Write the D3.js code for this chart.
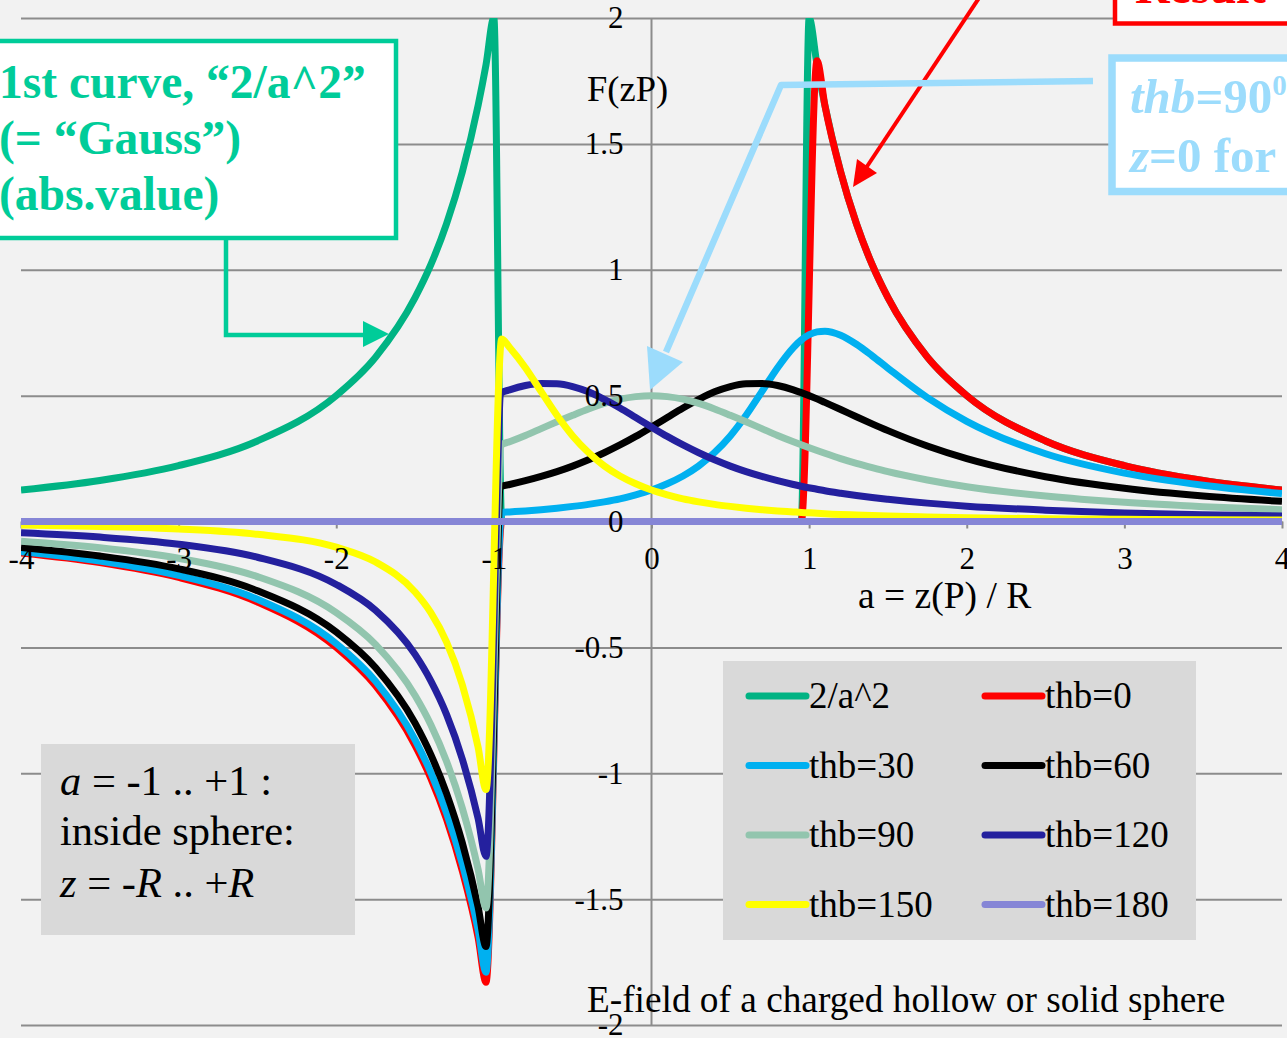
<!DOCTYPE html>
<html>
<head>
<meta charset="utf-8">
<script src="https://cdn.jsdelivr.net/npm/d3@7"></script>
<title>E-field of a charged sphere</title>
<style>
  body { margin: 0; background: #f2f2f2; overflow: hidden; }
  svg { display: block; font-family: "Liberation Serif", "Times New Roman", serif; }
</style>
</head>
<body>
<script>
// a = z(P) / R, sample points shared by the thb series
const aGrid = [-4, -3.5, -3, -2.5, -2, -1.75, -1.5, -1.4, -1.3, -1.2, -1.1, -1.05,
  -0.95, -0.9, -0.8, -0.7, -0.6, -0.5, -0.4, -0.3, -0.2, -0.1, 0, 0.1, 0.2, 0.3, 0.4, 0.5, 0.6, 0.7, 0.8, 0.9, 0.95,
  1.05, 1.1, 1.2, 1.3, 1.4, 1.5, 1.75, 2, 2.5, 3, 3.5, 4]

const thb0 = [-0.125, -0.163, -0.222, -0.32, -0.5, -0.653, -0.889, -1.02, -1.183, -1.389, -1.653, -1.83,
  0, 0, 0, 0, 0, 0, 0, 0, 0, 0, 0, 0, 0, 0, 0, 0, 0, 0, 0, 0, 0,
  1.83, 1.653, 1.389, 1.183, 1.02, 0.889, 0.653, 0.5, 0.32, 0.222, 0.163, 0.125]
const thb30 = [-0.12, -0.157, -0.214, -0.309, -0.485, -0.635, -0.867, -0.997, -1.158, -1.361, -1.622, -1.79,
  0.036, 0.038, 0.042, 0.047, 0.053, 0.06, 0.068, 0.078, 0.09, 0.106, 0.125, 0.15, 0.181, 0.221, 0.274, 0.34, 0.422, 0.516, 0.611, 0.691, 0.721,
  0.753, 0.756, 0.74, 0.704, 0.658, 0.609, 0.492, 0.398, 0.269, 0.192, 0.144, 0.111]
const thb60 = [-0.103, -0.137, -0.188, -0.275, -0.439, -0.581, -0.801, -0.926, -1.081, -1.277, -1.531, -1.688,
  0.14, 0.147, 0.162, 0.179, 0.198, 0.22, 0.245, 0.273, 0.304, 0.338, 0.375, 0.413, 0.451, 0.485, 0.515, 0.536, 0.547, 0.548, 0.54, 0.523, 0.512,
  0.487, 0.473, 0.445, 0.416, 0.388, 0.361, 0.3, 0.25, 0.178, 0.132, 0.101, 0.08]
const thb90 = [-0.078, -0.104, -0.146, -0.219, -0.362, -0.489, -0.691, -0.807, -0.953, -1.139, -1.382, -1.535,
  0.305, 0.317, 0.342, 0.369, 0.396, 0.422, 0.447, 0.469, 0.486, 0.496, 0.5, 0.496, 0.486, 0.469, 0.447, 0.422, 0.396, 0.369, 0.342, 0.317, 0.305,
  0.282, 0.271, 0.25, 0.231, 0.214, 0.198, 0.165, 0.138, 0.101, 0.076, 0.059, 0.047]
const thb120 = [-0.045, -0.062, -0.09, -0.142, -0.25, -0.353, -0.528, -0.633, -0.767, -0.944, -1.18, -1.33,
  0.512, 0.523, 0.54, 0.548, 0.547, 0.536, 0.515, 0.485, 0.451, 0.413, 0.375, 0.338, 0.304, 0.273, 0.245, 0.22, 0.198, 0.179, 0.162, 0.147, 0.14,
  0.128, 0.122, 0.112, 0.103, 0.095, 0.088, 0.073, 0.061, 0.045, 0.034, 0.027, 0.022]
const thb150 = [-0.014, -0.02, -0.03, -0.051, -0.102, -0.161, -0.28, -0.362, -0.479, -0.649, -0.897, -1.065,
  0.725, 0.691, 0.611, 0.516, 0.422, 0.34, 0.274, 0.221, 0.181, 0.15, 0.125, 0.106, 0.09, 0.078, 0.068, 0.06, 0.053, 0.047, 0.042, 0.038, 0.036,
  0.033, 0.031, 0.028, 0.026, 0.024, 0.022, 0.018, 0.015, 0.011, 0.009, 0.007, 0.006]
const thb180 = [0, 0, 0, 0, 0, 0, 0, 0, 0, 0, 0, 0,
  0, 0, 0, 0, 0, 0, 0, 0, 0, 0, 0, 0, 0, 0, 0, 0, 0, 0, 0, 0, 0,
  0, 0, 0, 0, 0, 0, 0, 0, 0, 0, 0, 0]

// the "2/a^2" curve has its own points (peaks at a = -1 and +1)
const gaussA = [-4, -3.5, -3, -2.5, -2, -1.75, -1.5, -1.4, -1.3, -1.2, -1.1, -1.05, -1, -0.95,
  0.95, 1, 1.05, 1.1, 1.2, 1.3, 1.4, 1.5, 1.75, 2, 2.5, 3, 3.5, 4]
const gaussF = [0.125, 0.163, 0.222, 0.32, 0.5, 0.653, 0.889, 1.02, 1.183, 1.389, 1.653, 1.814, 2, 0,
  0, 2, 1.814, 1.653, 1.389, 1.183, 1.02, 0.889, 0.653, 0.5, 0.32, 0.222, 0.163, 0.125]

const seriesNames = ['2/a^2', 'thb=0', 'thb=30', 'thb=60', 'thb=90', 'thb=120', 'thb=150', 'thb=180']
const seriesColors = ['#00b383', '#ff0000', '#00b0f0', '#000000', '#92c5ae', '#24209e', '#ffff00', '#8686d6']

const xTicks = [-4, -3, -2, -1, 0, 1, 2, 3, 4]
const yTicks = [2, 1.5, 1, 0.5, 0, -0.5, -1, -1.5, -2]

const width = 1287
const height = 1038
const margin = {top: 18, right: 5, bottom: 13, left: 21}

const svg = d3.select('body')
  .append('svg')
    .attr('width', width)
    .attr('height', height)

svg.append('rect').attr('width', width).attr('height', height).attr('fill', '#f2f2f2')

const xScale = d3.scaleLinear().domain([-4, 4]).range([margin.left, width - margin.right])
const yScale = d3.scaleLinear().domain([-2, 2]).range([height - margin.bottom, margin.top])

svg.append('defs').append('clipPath').attr('id', 'plot')
  .append('rect')
    .attr('x', xScale(-4)).attr('y', yScale(2))
    .attr('width', xScale(4) - xScale(-4)).attr('height', yScale(-2) - yScale(2))

// gridlines
svg.append('g')
  .attr('transform', `translate(${xScale(-4)},0)`)
  .call(d3.axisLeft(yScale).tickValues(yTicks).tickSize(-(xScale(4) - xScale(-4))).tickFormat(''))
  .call(g => g.select('.domain').remove())
  .call(g => g.selectAll('line').attr('stroke', '#8c8c8c').attr('stroke-width', 2))

// vertical axis line
svg.append('line')
  .attr('x1', xScale(0)).attr('x2', xScale(0))
  .attr('y1', yScale(2)).attr('y2', yScale(-2))
  .attr('stroke', '#8c8c8c').attr('stroke-width', 2)

// x axis line + tick marks
svg.append('g')
  .attr('transform', `translate(0,${yScale(0)})`)
  .call(d3.axisBottom(xScale).tickValues(xTicks).tickSize(7).tickSizeOuter(0).tickFormat(''))
  .call(g => g.select('.domain').attr('stroke', '#8c8c8c').attr('stroke-width', 2))
  .call(g => g.selectAll('line').attr('stroke', '#8c8c8c').attr('stroke-width', 2))

// curves
const line = d3.line()
  .x(d => xScale(d[0]))
  .y(d => yScale(d[1]))
  .curve(d3.curveMonotoneX)

const curves = [d3.zip(gaussA, gaussF)]
  .concat([thb0, thb30, thb60, thb90, thb120, thb150, thb180].map(v => d3.zip(aGrid, v)))

svg.append('g')
  .attr('clip-path', 'url(#plot)')
  .selectAll('path')
  .data(curves)
  .enter()
  .append('path')
    .attr('d', line)
    .attr('fill', 'none')
    .attr('stroke', (d, i) => seriesColors[i])
    .attr('stroke-width', 7)
    .attr('stroke-linejoin', 'round')

// tick labels
svg.append('g')
  .attr('transform', `translate(0,${yScale(0)})`)
  .call(d3.axisBottom(xScale).tickValues(xTicks).tickSize(0).tickPadding(25).tickFormat(d => String(d)))
  .call(g => g.select('.domain').remove())
  .call(g => g.selectAll('text').attr('font-size', 31).attr('font-family', 'Liberation Serif').attr('fill', '#000'))

svg.append('g')
  .attr('transform', `translate(${xScale(0)},0)`)
  .call(d3.axisLeft(yScale).tickValues(yTicks).tickSize(0).tickPadding(28).tickFormat(d => String(d)))
  .call(g => g.select('.domain').remove())
  .call(g => g.selectAll('text').attr('font-size', 31).attr('font-family', 'Liberation Serif').attr('fill', '#000'))

// axis titles
svg.append('text').attr('x', 587).attr('y', 101).attr('font-size', 36.5).text('F(zP)')
svg.append('text').attr('x', 858).attr('y', 608).attr('font-size', 37.5).text('a = z(P) / R')
svg.append('text').attr('x', 587).attr('y', 1012).attr('font-size', 37.3).text('E-field of a charged hollow or solid sphere')

// legend
const legend = svg.append('g')
legend.append('rect')
  .attr('x', 723).attr('y', 661).attr('width', 473).attr('height', 279)
  .attr('fill', '#d9d9d9')

const legendItems = legend.selectAll('g.item')
  .data(seriesNames)
  .enter()
  .append('g')
    .attr('class', 'item')
    .attr('transform', (d, i) => `translate(${i % 2 ? 985 : 749},${696 + Math.floor(i / 2) * 69.5})`)

legendItems.append('line')
  .attr('x1', 0).attr('x2', 57)
  .attr('stroke', (d, i) => seriesColors[i])
  .attr('stroke-width', 7)
  .attr('stroke-linecap', 'round')

legendItems.append('text')
  .attr('x', 60).attr('y', 12)
  .attr('font-size', 37)
  .text(d => d)

// box bottom left
svg.append('rect')
  .attr('x', 41).attr('y', 744).attr('width', 314).attr('height', 191)
  .attr('fill', '#d9d9d9')
const inside = svg.append('text').attr('font-size', 42.5).attr('fill', '#000')
const l1 = inside.append('tspan').attr('x', 60).attr('y', 795)
l1.append('tspan').attr('font-style', 'italic').text('a')
l1.append('tspan').text(' = -1 .. +1 :')
inside.append('tspan').attr('x', 60).attr('y', 845).text('inside sphere:')
const l3 = inside.append('tspan').attr('x', 60).attr('y', 897)
l3.append('tspan').attr('font-style', 'italic').text('z')
l3.append('tspan').text(' = ')
l3.append('tspan').attr('font-style', 'italic').text('-R')
l3.append('tspan').text(' .. +')
l3.append('tspan').attr('font-style', 'italic').text('R')

// green note, top left
const gaussGreen = '#00cc99'
svg.append('rect')
  .attr('x', -10).attr('y', 41).attr('width', 406).attr('height', 197)
  .attr('fill', '#ffffff').attr('stroke', gaussGreen).attr('stroke-width', 4.5)
const gaussNote = svg.append('text')
  .attr('font-size', 47.5).attr('font-weight', 'bold').attr('fill', gaussGreen)
gaussNote.append('tspan').attr('x', -1).attr('y', 98).text('1st curve, \u201c2/a^2\u201d')
gaussNote.append('tspan').attr('x', -1).attr('y', 154).text('(= \u201cGauss\u201d)')
gaussNote.append('tspan').attr('x', -1).attr('y', 210).text('(abs.value)')
svg.append('path')
  .attr('d', 'M226,240 L226,335 L366,335')
  .attr('fill', 'none').attr('stroke', gaussGreen).attr('stroke-width', 4.5)
svg.append('path')
  .attr('d', 'M389,334 L363,321 L363,347 Z')
  .attr('fill', gaussGreen)

// red note, top right
svg.append('rect')
  .attr('x', 1115).attr('y', -40).attr('width', 220).attr('height', 63.5)
  .attr('fill', '#ffffff').attr('stroke', '#ff0000').attr('stroke-width', 4.5)
svg.append('text')
  .attr('x', 1135).attr('y', 3)
  .attr('font-size', 48).attr('font-weight', 'bold').attr('fill', '#ff0000')
  .text('Result')
svg.append('path')
  .attr('d', 'M981,-5 L866,168')
  .attr('fill', 'none').attr('stroke', '#ff0000').attr('stroke-width', 4)
svg.append('path')
  .attr('d', 'M853,187 L857,159 L877,173 Z')
  .attr('fill', '#ff0000')

// light blue note, thb=90
const thbBlue = '#9cdcfc'
svg.append('rect')
  .attr('x', 1112).attr('y', 58).attr('width', 220).attr('height', 133.5)
  .attr('fill', '#ffffff').attr('stroke', thbBlue).attr('stroke-width', 7.5)
const blueNote = svg.append('text')
  .attr('font-size', 49).attr('font-weight', 'bold').attr('fill', thbBlue)
const b1 = blueNote.append('tspan').attr('x', 1130).attr('y', 113)
b1.append('tspan').attr('font-style', 'italic').text('thb')
b1.append('tspan').text('=90')
b1.append('tspan').attr('font-size', 29).attr('dy', -18).text('0')
const b2 = blueNote.append('tspan').attr('x', 1130).attr('y', 172)
b2.append('tspan').attr('font-style', 'italic').text('z')
b2.append('tspan').text('=0 for')
svg.append('path')
  .attr('d', 'M1093,81 L781,85 L666,352')
  .attr('fill', 'none').attr('stroke', thbBlue).attr('stroke-width', 6.5).attr('stroke-linejoin', 'round')
svg.append('path')
  .attr('d', 'M650,390 L647,346 L683,362 Z')
  .attr('fill', thbBlue)
</script>
</body>
</html>
